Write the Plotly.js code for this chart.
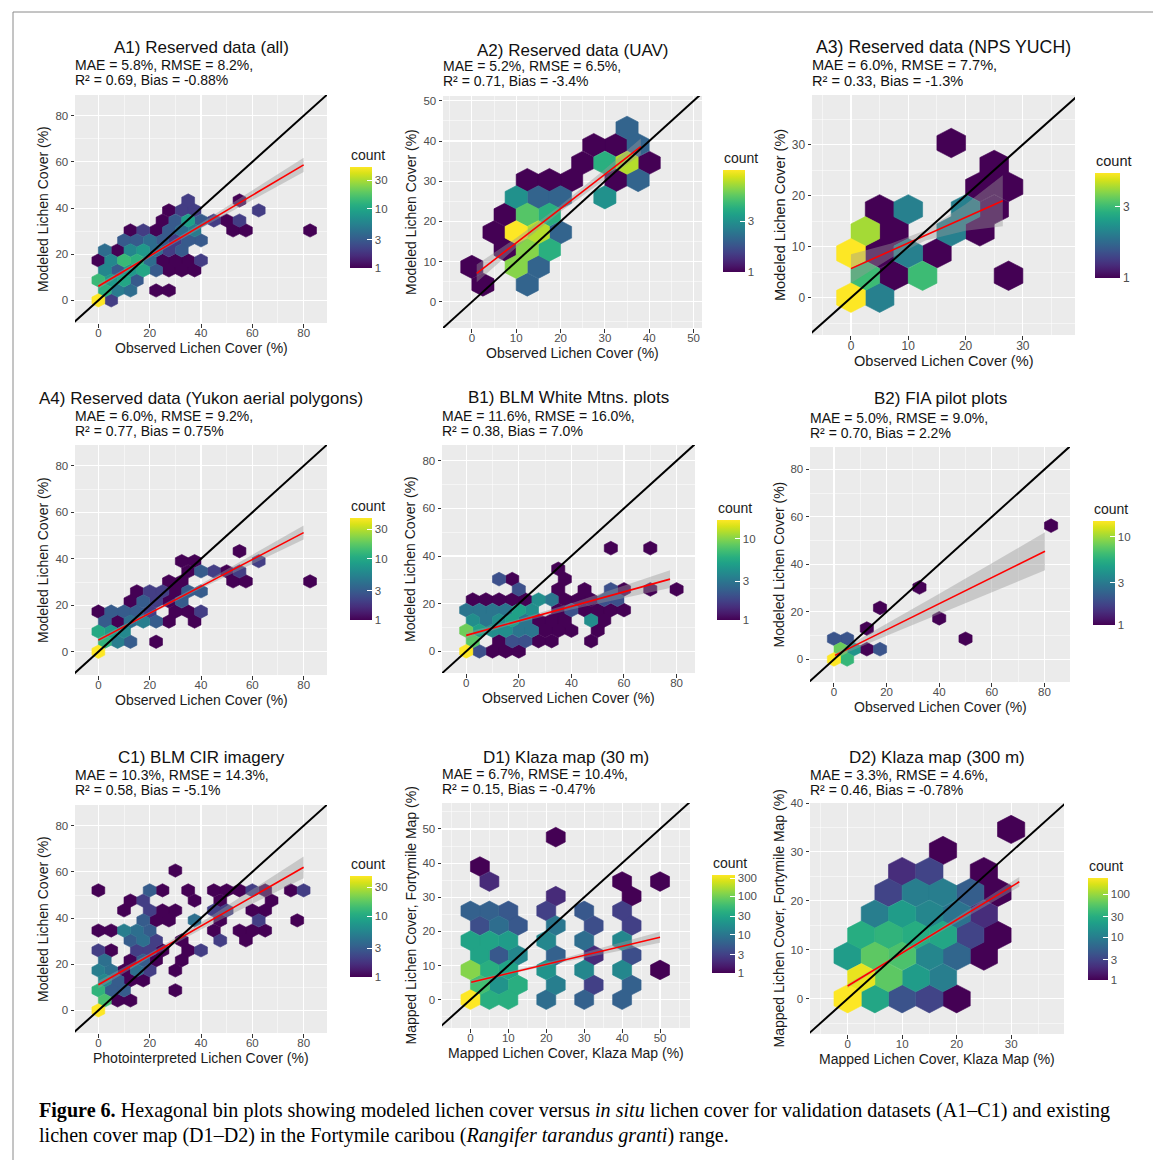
<!DOCTYPE html>
<html>
<head>
<meta charset="utf-8">
<script src="https://cdn.plot.ly/plotly-3.0.1.min.js"></script>
<style>
html,body{margin:0;padding:0;background:#fff;}
#chart{width:1153px;height:1160px;}
</style>
</head>
<body>
<div id="chart"></div>
<script>
// ================= DATA =================
// hex bins: [x centre, y centre, count]
const A1_hex = [
 [0,0,50],[5,0,2],
 [2.5,4.3,12],[7.5,4.3,5],[12.5,4.3,4],[22.5,4.3,1],[27.5,4.3,1],
 [0,8.7,14],[5,8.7,8],[10,8.7,10],[15,8.7,3],
 [2.5,13,6],[7.5,13,3],[12.5,13,8],[17.5,13,10],[22.5,13,3],[27.5,13,1],[32.5,13,1],[37.5,13,1],
 [0,17.3,1],[5,17.3,6],[10,17.3,14],[15,17.3,12],[20,17.3,4],[25,17.3,1],[30,17.3,1],[35,17.3,1],[40,17.3,2],
 [2.5,21.7,4],[7.5,21.7,1],[12.5,21.7,6],[17.5,21.7,8],[22.5,21.7,4],[27.5,21.7,2],[32.5,21.7,3],
 [10,26,3],[15,26,3],[20,26,4],[25,26,3],[30,26,2],[35,26,3],[40,26,3],
 [12.5,30.3,1],[17.5,30.3,2],[22.5,30.3,1],[27.5,30.3,3],[32.5,30.3,4],[37.5,30.3,5],[52.5,30.3,1],[57.5,30.3,1],[82.5,30.3,1],
 [25,34.6,1],[30,34.6,3],[35,34.6,9],[40,34.6,3],[45,34.6,2],[50,34.6,1],[55,34.6,2],
 [27.5,39,1],[32.5,39,2],[37.5,39,2],[62.5,39,2],
 [35,43.3,2],[55,43.3,1]
];
const A2_hex = [
 [0,8.7,1],[2.5,4.3,1],[10,8.7,6],[12.5,4.3,2],[15,8.7,2],
 [7.5,13,1],[12.5,13,6],[17.5,13,4],
 [5,17.3,1],[10,17.3,9],[15,17.3,7],[20,17.3,2],
 [7.5,21.7,1],[12.5,21.7,5],[17.5,21.7,4],
 [10,26,3],[15,26,2],[20,26,2],[30,26,3],
 [12.5,30.3,1],[17.5,30.3,1],[22.5,30.3,1],[32.5,30.3,1],[37.5,30.3,2],
 [25,34.6,1],[30,34.6,4],[35,34.6,7],[40,34.6,1],
 [27.5,39,1],[32.5,39,1],[37.5,39,2],
 [35,43.3,2]
];
const A3_hex = [
 [0,0,5],[5,0,2],
 [2.5,4.3,3],[7.5,4.3,1],[12.5,4.3,3],[27.5,4.3,1],
 [0,8.7,5],[5,8.7,1],[10,8.7,2],[15,8.7,1],
 [2.5,13,4],[7.5,13,1],[17.5,13,2],[22.5,13,1],
 [5,17.3,1],[10,17.3,2],[20,17.3,2],[25,17.3,1],
 [22.5,21.7,1],[27.5,21.7,1],
 [25,26,1],
 [17.5,30.3,1]
];
const A4_hex = [
 [0,0,46],[2.5,4.3,12],[7.5,4.3,5],[12.5,4.3,3],[22.5,4.3,1],
 [0,8.7,10],[5,8.7,8],[10,8.7,6],
 [2.5,13,3],[7.5,13,1],[12.5,13,4],[17.5,13,5],[22.5,13,3],[27.5,13,1],[37.5,13,1],
 [0,17.3,1],[5,17.3,3],[10,17.3,3],[15,17.3,3],[20,17.3,2],[30,17.3,1],[35,17.3,1],[40,17.3,2],
 [12.5,21.7,1],[17.5,21.7,3],[22.5,21.7,2],[27.5,21.7,1],[32.5,21.7,3],
 [15,26,1],[20,26,2],[25,26,2],[30,26,1],[35,26,3],[40,26,3],
 [27.5,30.3,1],[32.5,30.3,1],[52.5,30.3,1],[57.5,30.3,1],[82.5,30.3,1],
 [35,34.6,1],[40,34.6,3],[45,34.6,2],[50,34.6,1],[55,34.6,2],
 [32.5,39,1],[37.5,39,1],[62.5,39,2],
 [55,43.3,1]
];
const B1_hex = [
 [0,0,17],[5,0,2],[10,0,1],[15,0,1],[20,0,1],
 [2.5,4.3,8],[12.5,4.3,1],[17.5,4.3,2],[22.5,4.3,2],[27.5,4.3,1],[32.5,4.3,1],[47.5,4.3,1],
 [0,8.7,9],[5,8.7,5],[10,8.7,4],[15,8.7,4],[20,8.7,3],[25,8.7,3],[30,8.7,1],[35,8.7,1],[40,8.7,1],[50,8.7,1],
 [2.5,13,4],[7.5,13,3],[12.5,13,4],[17.5,13,5],[22.5,13,3],[27.5,13,1],[32.5,13,1],[37.5,13,1],[47.5,13,4],[52.5,13,1],
 [0,17.3,3],[5,17.3,3],[10,17.3,3],[15,17.3,3],[20,17.3,5],[25,17.3,4],[35,17.3,1],[40,17.3,2],[45,17.3,1],[50,17.3,1],[55,17.3,1],[60,17.3,1],
 [2.5,21.7,1],[7.5,21.7,1],[12.5,21.7,1],[17.5,21.7,1],[22.5,21.7,1],[27.5,21.7,4],[32.5,21.7,3],[37.5,21.7,1],[42.5,21.7,1],[47.5,21.7,1],[52.5,21.7,2],[57.5,21.7,2],
 [20,26,2],[35,26,1],[45,26,1],[55,26,2],[60,26,1],[70,26,1],[80,26,1],
 [12.5,30.3,2],[17.5,30.3,1],[37.5,30.3,1],
 [35,34.6,1],
 [55,43.3,1],[70,43.3,1]
];
const B2_hex = [
 [0,0,15],[5,0,6],[2.5,4.3,8],[7.5,4.3,4],[12.5,4.3,1],[17.5,4.3,2],
 [0,8.7,2],[5,8.7,2],[12.5,13,1],[17.5,21.7,1],[32.5,30.3,1],[40,17.3,1],[50,8.7,1],[82.5,56.3,1]
];
const C1_hex = [
 [0,0,46],
 [2.5,4.3,15],[7.5,4.3,1],[12.5,4.3,1],
 [0,8.7,12],[5,8.7,3],[10,8.7,3],[30,8.7,1],
 [2.5,13,6],[7.5,13,3],[12.5,13,1],[17.5,13,1],
 [0,17.3,5],[5,17.3,4],[10,17.3,1],[15,17.3,4],[20,17.3,2],[30,17.3,1],
 [2.5,21.7,4],[12.5,21.7,1],[17.5,21.7,3],[22.5,21.7,1],[32.5,21.7,1],
 [0,26,2],[5,26,1],[15,26,2],[20,26,2],[25,26,1],[35,26,1],[40,26,2],
 [12.5,30.3,3],[17.5,30.3,4],[22.5,30.3,2],[32.5,30.3,1],[47.5,30.3,2],[57.5,30.3,1],
 [0,34.6,1],[5,34.6,1],[10,34.6,5],[15,34.6,4],[20,34.6,3],[45,34.6,1],[55,34.6,1],[60,34.6,1],[65,34.6,1],
 [17.5,39,3],[22.5,39,1],[27.5,39,1],[37.5,39,4],[47.5,39,1],[62.5,39,2],[77.5,39,1],
 [10,43.3,1],[20,43.3,2],[25,43.3,1],[30,43.3,1],[45,43.3,2],[50,43.3,2],[60,43.3,1],[65,43.3,1],
 [12.5,47.6,1],[17.5,47.6,2],[37.5,47.6,1],[47.5,47.6,1],[67.5,47.6,1],
 [0,52,1],[20,52,3],[25,52,1],[35,52,1],[45,52,1],[50,52,1],[55,52,1],[60,52,2],[65,52,1],[75,52,1],[80,52,2],
 [30,60.6,1]
];
const D1_hex = [
 [0,0,360],[5,0,40],[10,0,40],[20,0,8],[30,0,6],[40,0,6],
 [2.5,4.3,60],[7.5,4.3,20],[12.5,4.3,40],[22.5,4.3,12],[32.5,4.3,3],[42.5,4.3,6],
 [0,8.7,120],[5,8.7,40],[10,8.7,30],[20,8.7,20],[30,8.7,15],[40,8.7,15],[50,8.7,1],
 [2.5,13,30],[7.5,13,5],[12.5,13,15],[22.5,13,6],[32.5,13,2],[42.5,13,4],
 [0,17.3,30],[5,17.3,30],[10,17.3,25],[20,17.3,15],[30,17.3,8],[40,17.3,15],
 [2.5,21.7,4],[7.5,21.7,8],[12.5,21.7,5],[22.5,21.7,10],[32.5,21.7,4],[42.5,21.7,3],
 [0,26,6],[5,26,6],[10,26,5],[20,26,3],[30,26,5],[40,26,3],
 [22.5,30.3,2],[42.5,30.3,1],
 [5,34.6,2],[40,34.6,1],[50,34.6,1],
 [2.5,39,1],
 [22.5,47.6,1]
];
const D2_hex = [
 [0,0,240],[5,0,25],[10,0,4],[15,0,3],[20,0,1],
 [2.5,4.3,200],[7.5,4.3,60],[12.5,4.3,20],[17.5,4.3,10],
 [0,8.7,20],[5,8.7,60],[10,8.7,50],[15,8.7,12],[20,8.7,6],[25,8.7,1],
 [2.5,13,30],[7.5,13,35],[12.5,13,30],[17.5,13,25],[22.5,13,3],[27.5,13,1],
 [5,17.3,10],[10,17.3,20],[15,17.3,12],[20,17.3,8],[25,17.3,2],
 [7.5,21.7,3],[12.5,21.7,10],[17.5,21.7,10],[22.5,21.7,5],[27.5,21.7,1],
 [10,26,2],[15,26,3],[25,26,1],
 [17.5,30.3,1],
 [30,34.6,1]
];
// linear fit with confidence band: [x, lower, fit, upper]
const A1_smooth = [[0,4.9,6.1,7.3],[20,18.5,19.2,19.9],[40,31.3,32.4,33.5],[60,43.4,45.5,47.6],[80,55.6,58.7,61.8]];
const A2_smooth = [[1.1,4.9,7.1,9.3],[10,13.5,14.7,15.9],[20,22.4,23.2,24.0],[30,30.4,31.7,33.0],[38.1,36.6,38.6,40.6]];
const A3_smooth = [[0,2.9,5.7,8.5],[7,7.8,9.2,10.6],[13,11.2,12.2,13.2],[20,13.1,15.7,18.3],[26.5,14.0,19.0,24.0]];
const A4_smooth = [[0,4.0,5.0,6.0],[20,16.0,16.6,17.2],[40,27.2,28.2,29.2],[60,37.7,39.7,41.7],[80,48.3,51.3,54.3]];
const B1_smooth = [[0,5.4,6.7,8.0],[20,12.0,12.8,13.6],[40,17.6,18.9,20.2],[60,22.4,25.0,27.6],[77.5,26.6,30.3,34.0]];
const B2_smooth = [[0.4,0.7,1.7,2.7],[20,10.0,12.5,15.0],[40,19.2,23.4,27.6],[60,28.3,34.4,40.5],[80.2,37.5,45.5,53.5]];
const C1_smooth = [[0,9.5,11.1,12.7],[20,22.8,23.8,24.8],[40,35.0,36.6,38.1],[60,46.3,49.3,52.3],[80,57.3,62.0,66.7]];
const D1_smooth = [[0.2,4.5,5.1,5.7],[12.5,8.0,8.4,8.8],[25,11.1,11.7,12.3],[37.5,14.0,15.0,16.0],[50,16.7,18.3,19.9]];
const D2_smooth = [[0,2.2,2.6,3.0],[8,7.7,8.0,8.3],[16,13.0,13.4,13.8],[24,18.1,18.8,19.5],[31.5,22.9,23.9,24.9]];

const panelTitles = ['A1) Reserved data (all)','A2) Reserved data (UAV)','A3) Reserved data (NPS YUCH)',
  'A4) Reserved data (Yukon aerial polygons)','B1) BLM White Mtns. plots','B2) FIA pilot plots',
  'C1) BLM CIR imagery','D1) Klaza map (30 m)','D2) Klaza map (300 m)'];
const statsLine1 = ['MAE = 5.8%, RMSE = 8.2%,','MAE = 5.2%, RMSE = 6.5%,','MAE = 6.0%, RMSE = 7.7%,',
  'MAE = 6.0%, RMSE = 9.2%,','MAE = 11.6%, RMSE = 16.0%,','MAE = 5.0%, RMSE = 9.0%,',
  'MAE = 10.3%, RMSE = 14.3%,','MAE = 6.7%, RMSE = 10.4%,','MAE = 3.3%, RMSE = 4.6%,'];
const statsLine2 = ['R² = 0.69, Bias = -0.88%','R² = 0.71, Bias = -3.4%','R² = 0.33, Bias = -1.3%',
  'R² = 0.77, Bias = 0.75%','R² = 0.38, Bias = 7.0%','R² = 0.70, Bias = 2.2%',
  'R² = 0.58, Bias = -5.1%','R² = 0.15, Bias = -0.47%','R² = 0.46, Bias = -0.78%'];
const xTitles = ['Observed Lichen Cover (%)','Observed Lichen Cover (%)','Observed Lichen Cover (%)',
  'Observed Lichen Cover (%)','Observed Lichen Cover (%)','Observed Lichen Cover (%)',
  'Photointerpreted Lichen Cover (%)','Mapped Lichen Cover, Klaza Map (%)','Mapped Lichen Cover, Klaza Map (%)'];
const yTitles = ['Modeled Lichen Cover (%)','Modeled Lichen Cover (%)','Modeled Lichen Cover (%)',
  'Modeled Lichen Cover (%)','Modeled Lichen Cover (%)','Modeled Lichen Cover (%)',
  'Modeled Lichen Cover (%)','Mapped Lichen Cover, Fortymile Map (%)','Mapped Lichen Cover, Fortymile Map (%)'];
const countBreaks = [1, 3, 10, 30, 100, 300];
const captionLine1 = '<b>Figure 6.</b> Hexagonal bin plots showing modeled lichen cover versus <i>in situ</i> lichen cover for validation datasets (A1–C1) and existing';
const captionLine2 = 'lichen cover map (D1–D2) in the Fortymile caribou (<i>Rangifer tarandus granti</i>) range.';

// ================= LAYOUT / STYLE =================
const W = 1153, H = 1160;
const PX = v => v / W, PY = v => 1 - v / H;
const FONT = 'Liberation Sans, Arial, sans-serif';
// box: [left, right, top, bottom] px; cb: [left, top, length, thickness]; ty: title/sub1/sub2 y; xt: x-title offset
const GEOM = [
 {box:[75,327,95,323],  xr:[-9.1,89.1], yr:[-9.8,89],   dt:20, cb:[350,167,101,22], ty:[48,65,80],   xt:25, fs:1},
 {box:[443,702,96,328], xr:[-6.5,51.9], yr:[-6.5,51.2], dt:10, cb:[723,170,102,22], ty:[50,66,81],   xt:25, fs:1},
 {box:[812,1075,95,335],xr:[-6.8,39.1], yr:[-7.3,39.7], dt:10, cb:[1095,173,105,25], ty:[47,65,81],  xt:26, fs:1.04},
 {box:[75,327,445,675], xr:[-9.1,89.1], yr:[-10,89],    dt:20, cb:[350,518,102,22], ty:[398,416,431], xt:25, fs:1},
 {box:[442,695,445,673],xr:[-9.2,87],   yr:[-9.1,86.6], dt:20, cb:[717,520,100,23], ty:[397,416,431], xt:25, fs:1},
 {box:[810,1070,447,682],xr:[-9.1,89.7],yr:[-9.5,89.4], dt:20, cb:[1093,521,104,22], ty:[398,418,433], xt:25, fs:1},
 {box:[75,327,805,1033],xr:[-9.1,89.1], yr:[-9.8,89],   dt:20, cb:[350,876,101,22], ty:[757,775,790], xt:25, fs:1},
 {box:[442,690,803,1028],xr:[-7.5,57.9],yr:[-8.3,57.6], dt:10, cb:[712,875,98,23],  ty:[757,774,789], xt:25, fs:1},
 {box:[810,1064,803,1034],xr:[-6.9,39.7],yr:[-7.2,40],  dt:10, cb:[1088,878,102,20], ty:[757,775,790], xt:25, fs:1}
];
const HEXES = [A1_hex,A2_hex,A3_hex,A4_hex,B1_hex,B2_hex,C1_hex,D1_hex,D2_hex];
const SMOOTHS = [A1_smooth,A2_smooth,A3_smooth,A4_smooth,B1_smooth,B2_smooth,C1_smooth,D1_smooth,D2_smooth];

// viridis
const VIR = ['#440154','#48186a','#472d7b','#424086','#3b528b','#33638d','#2c728e','#26828e','#21918c',
  '#1fa088','#28ae80','#3fbc73','#5ec962','#84d44b','#addc30','#d8e219','#fde725'];
const VIR_SCALE = VIR.map((c,i)=>[i/(VIR.length-1), c]);
function h2r(h){return [parseInt(h.slice(1,3),16),parseInt(h.slice(3,5),16),parseInt(h.slice(5,7),16)];}
function vir(t){
  t = Math.max(0, Math.min(1, t));
  const s = t*(VIR.length-1); const i = Math.min(Math.floor(s), VIR.length-2); const f = s - i;
  const a = h2r(VIR[i]), b = h2r(VIR[i+1]);
  return 'rgb(' + a.map((v,k)=>Math.round(v + (b[k]-v)*f)).join(',') + ')';
}
// hexagon geometry (bin width 5 in x, pointy-top)
const HW = 2.5, HR = 5/Math.sqrt(3);
const HDX = [HW, HW, 0, -HW, -HW, 0, HW];
const HDY = [-HR/2, HR/2, HR, HR/2, -HR/2, -HR, -HR/2];

const traces = [];
const layout = {
  width: W, height: H, margin:{l:0,r:0,t:0,b:0},
  paper_bgcolor:'#ffffff', plot_bgcolor:'#EBEBEB', showlegend:false,
  font:{family:FONT, color:'#1a1a1a'},
  annotations:[], shapes:[]
};

GEOM.forEach((g, i) => {
  const s = i === 0 ? '' : String(i+1);
  const xa = 'x'+s, ya = 'y'+s;
  const [l, r, t, b] = g.box;
  const hex = HEXES[i], sm = SMOOTHS[i];
  const counts = hex.map(h=>h[2]);
  const lmax = Math.log10(Math.max(...counts));
  const uniq = [...new Set(counts)].sort((a,c)=>a-c);
  uniq.forEach(c => {
    const xs = [], ys = [];
    hex.filter(h=>h[2]===c).forEach(h => {
      for (let k=0;k<HDX.length;k++){ xs.push(h[0]+HDX[k]); ys.push(h[1]+HDY[k]); }
      xs.push(null); ys.push(null);
    });
    const col = vir(Math.log10(c)/lmax);
    traces.push({type:'scatter', mode:'lines', x:xs, y:ys, xaxis:xa, yaxis:ya,
      fill:'toself', fillcolor:col, line:{color:col, width:0.6}, hoverinfo:'skip'});
  });
  // confidence band
  const bx = sm.map(v=>v[0]), lo = sm.map(v=>v[1]), fit = sm.map(v=>v[2]), hi = sm.map(v=>v[3]);
  traces.push({type:'scatter', mode:'lines', xaxis:xa, yaxis:ya,
    x: bx.concat(bx.slice().reverse()), y: hi.concat(lo.slice().reverse()),
    fill:'toself', fillcolor:'rgba(153,153,153,0.42)', line:{width:0, color:'rgba(0,0,0,0)'}, hoverinfo:'skip'});
  traces.push({type:'scatter', mode:'lines', xaxis:xa, yaxis:ya, x:bx, y:fit,
    line:{color:'#FF0000', width:1.6}, hoverinfo:'skip'});
  // 1:1 line across the panel
  const e0 = Math.min(g.xr[0], g.yr[0]), e1 = Math.max(g.xr[1], g.yr[1]);
  traces.push({type:'scatter', mode:'lines', xaxis:xa, yaxis:ya, x:[e0,e1], y:[e0,e1],
    line:{color:'#000000', width:2}, hoverinfo:'skip'});
  // colour bar carrier (bin centres, invisible)
  const brks = countBreaks.filter(v => Math.log10(v) <= lmax + 1e-9);
  traces.push({type:'scatter', mode:'markers', xaxis:xa, yaxis:ya,
    x: hex.map(h=>h[0]), y: hex.map(h=>h[1]), hoverinfo:'skip',
    marker:{size:2, opacity:0, color:counts.map(c=>Math.log10(c)), colorscale:VIR_SCALE, cmin:0, cmax:lmax,
      showscale:true,
      colorbar:{x:PX(g.cb[0]), xanchor:'left', y:PY(g.cb[1]), yanchor:'top',
        len:g.cb[2], lenmode:'pixels', thickness:g.cb[3], thicknessmode:'pixels',
        xpad:0, ypad:0, outlinewidth:0, tickmode:'array',
        tickvals:brks.map(v=>Math.log10(v)), ticktext:brks.map(String),
        ticks:'inside', ticklen:5, tickwidth:1, tickcolor:'#ffffff',
        tickfont:{size:11.5*g.fs, color:'#4d4d4d', family:FONT}, title:{text:''}}}});

  const axCommon = {tickmode:'linear', tick0:0, dtick:g.dt, ticks:'outside', ticklen:3.5, tickwidth:1,
    tickcolor:'#333333', tickfont:{size:11.5*g.fs, color:'#4d4d4d', family:FONT},
    showgrid:true, gridcolor:'#ffffff', gridwidth:1.1, zeroline:false, showline:false, fixedrange:true,
    minor:{showgrid:true, gridcolor:'#ffffff', gridwidth:0.5, tick0:0, dtick:g.dt/2, ticks:''}};
  layout['xaxis'+s] = Object.assign({}, axCommon, {domain:[PX(l),PX(r)], range:g.xr, anchor:ya, ticklabelstandoff:-4});
  layout['yaxis'+s] = Object.assign({}, axCommon, {domain:[PY(b),PY(t)], range:g.yr, anchor:xa});

  const A = layout.annotations;
  A.push({xref:'paper', yref:'paper', x:PX((l+r)/2), y:PY(g.ty[0]), xanchor:'center', yanchor:'middle',
    showarrow:false, text:panelTitles[i], font:{size:17*g.fs, color:'#111111', family:FONT}});
  A.push({xref:'paper', yref:'paper', x:PX(l-2), y:PY(g.ty[1]), xanchor:'left', yanchor:'middle',
    showarrow:false, text:statsLine1[i], font:{size:14*g.fs, color:'#111111', family:FONT}});
  A.push({xref:'paper', yref:'paper', x:PX(l-2), y:PY(g.ty[2]), xanchor:'left', yanchor:'middle',
    showarrow:false, text:statsLine2[i], font:{size:14*g.fs, color:'#111111', family:FONT}});
  A.push({xref:'paper', yref:'paper', x:PX((l+r)/2), y:PY(b+g.xt), xanchor:'center', yanchor:'middle',
    showarrow:false, text:xTitles[i], font:{size:14*g.fs, color:'#1a1a1a', family:FONT}});
  A.push({xref:'paper', yref:'paper', x:PX(l-32), y:PY((t+b)/2), xanchor:'center', yanchor:'middle',
    showarrow:false, textangle:-90, text:yTitles[i], font:{size:14*g.fs, color:'#1a1a1a', family:FONT}});
  A.push({xref:'paper', yref:'paper', x:PX(g.cb[0]-1), y:PY(g.cb[1]-12), xanchor:'left', yanchor:'middle',
    showarrow:false, text:'count', font:{size:14*g.fs, color:'#1a1a1a', family:FONT}});
});

// caption
layout.annotations.push({xref:'paper', yref:'paper', x:PX(37), y:PY(1110), xanchor:'left', yanchor:'middle',
  showarrow:false, text:captionLine1, font:{size:20.1, color:'#000', family:'Liberation Serif, Times New Roman, serif'}});
layout.annotations.push({xref:'paper', yref:'paper', x:PX(37), y:PY(1135), xanchor:'left', yanchor:'middle',
  showarrow:false, text:captionLine2, font:{size:20.1, color:'#000', family:'Liberation Serif, Times New Roman, serif'}});
// figure frame
layout.shapes.push({type:'line', xref:'paper', yref:'paper', x0:PX(13), x1:PX(13), y0:PY(12), y1:PY(1160),
  line:{color:'#8a8a8a', width:1}});
layout.shapes.push({type:'line', xref:'paper', yref:'paper', x0:PX(13), x1:PX(1153), y0:PY(12), y1:PY(12),
  line:{color:'#8a8a8a', width:1}});

Plotly.newPlot('chart', traces, layout, {displayModeBar:false, staticPlot:true});
</script>
</body>
</html>
